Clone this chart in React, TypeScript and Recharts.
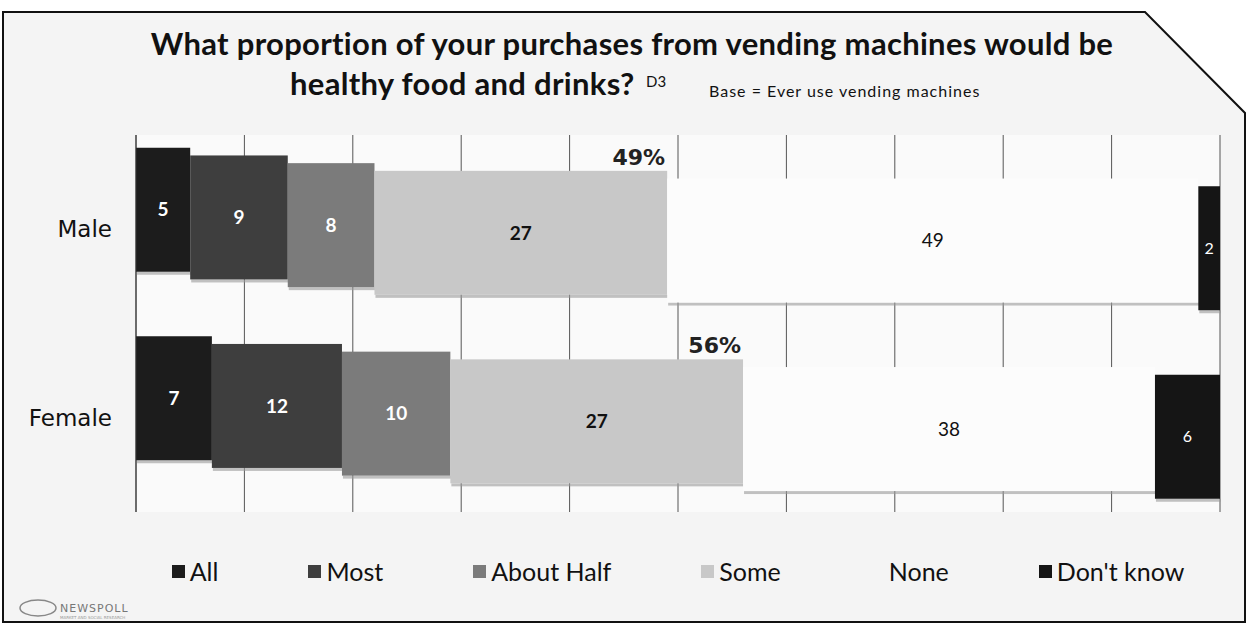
import React from 'react';
import { BarChart, Bar, XAxis, YAxis, CartesianGrid, Legend } from 'recharts';

const categories = ['Male', 'Female'];
const allValues = [5, 7];
const mostValues = [9, 12];
const aboutHalfValues = [8, 10];
const someValues = [27, 27];
const noneValues = [49, 38];
const dontKnowValues = [2, 6];

const seriesKeys = ['all', 'most', 'half', 'some', 'none', 'dk'];
const seriesNames = ['All', 'Most', 'About Half', 'Some', 'None', "Don't know"];
const seriesColors = ['#1c1c1c', '#3e3e3e', '#7b7b7b', '#c8c8c8', '#fcfcfc', '#151515'];
const labelColors = ['#ffffff', '#ffffff', '#ffffff', '#111111', '#111111', '#ffffff'];
const xTicks = [0, 10, 20, 30, 40, 50, 60, 70, 80, 90, 100];

const data = categories.map((name, i) => ({
  name,
  all: allValues[i],
  most: mostValues[i],
  half: aboutHalfValues[i],
  some: someValues[i],
  none: noneValues[i],
  dk: dontKnowValues[i],
}));

const STEP = 7.7;

const makeShape = (si: number) => (props: any) => {
  const { x, y, width, height, payload } = props;
  const off = (si - 2.5) * STEP;
  const top = y + off;
  const v = payload[seriesKeys[si]];
  const bold = si < 4;
  const cx = x + width / 2;
  const cy = top + height / 2;
  return (
    <g>
      <rect x={x + 1} y={top + height} width={width} height={3} fill="#9a9a9a" opacity={0.6} />
      <rect x={x} y={top} width={width} height={height} fill={seriesColors[si]} />
      <text
        x={cx}
        y={cy}
        dy="0.35em"
        textAnchor="middle"
        fill={labelColors[si]}
        fontFamily="Lato"
        fontWeight={bold ? 700 : 400}
        fontSize={si === 5 ? 16 : 19}
      >
        {v}
      </text>
      {si === 3 && (
        <text
          x={x + width - 2}
          y={top - 6}
          textAnchor="end"
          fontFamily="DejaVu Sans"
          fontWeight={700}
          fontSize={22}
          fill="#222"
        >
          {payload.all + payload.most + payload.half + payload.some}%
        </text>
      )}
    </g>
  );
};

const renderLegend = () => (
  <div
    style={{
      display: 'flex',
      justifyContent: 'center',
      gap: 90,
      fontFamily: 'Lato',
      fontSize: 25,
      color: '#111',
      lineHeight: 1.2,
    }}
  >
    {seriesNames.map((n, i) => (
      <div key={n} style={{ display: 'flex', alignItems: 'center' }}>
        <span
          style={{
            width: 13,
            height: 13,
            background: i === 4 ? 'transparent' : seriesColors[i],
            marginRight: 5,
            display: 'inline-block',
          }}
        />
        <span>{n}</span>
      </div>
    ))}
  </div>
);

export default function App() {
  return (
    <div style={{ position: 'absolute', left: 0, top: 0, width: 1247, height: 630, background: '#fff' }}>
      <svg width={1247} height={630} style={{ position: 'absolute', left: 0, top: 0 }}>
        <polygon
          points="3,12 1145,12 1245,113 1245,622 3,622"
          fill="#f4f4f4"
          stroke="#111"
          strokeWidth={2}
        />
      </svg>
      <div style={{ position: 'absolute', left: 0, top: 0 }}>
        <BarChart
          width={1247}
          height={630}
          data={data}
          layout="vertical"
          margin={{ top: 135, right: 27, bottom: 118, left: 0 }}
        >
          <CartesianGrid horizontal={false} stroke="#555" fill="#fafafa" />
          <XAxis type="number" domain={[0, 100]} ticks={xTicks} hide />
          <YAxis
            type="category"
            dataKey="name"
            width={136}
            axisLine={{ stroke: '#333' }}
            tickLine={false}
            tickSize={6}
            tickMargin={18}
            tick={{ fontFamily: 'DejaVu Sans', fontSize: 23, fill: '#111' }}
          />
          <Legend
            layout="horizontal"
            verticalAlign="middle"
            align="center"
            content={renderLegend}
            wrapperStyle={{ top: 556, left: 136, width: 1084 }}
          />
          {seriesKeys.map((k, si) => (
            <Bar
              key={k}
              dataKey={k}
              name={seriesNames[si]}
              stackId="a"
              barSize={124}
              fill={seriesColors[si]}
              shape={makeShape(si)}
              isAnimationActive={false}
            />
          ))}
        </BarChart>
      </div>
      <svg
        width={1247}
        height={630}
        style={{ position: 'absolute', left: 0, top: 0, pointerEvents: 'none' }}
      >
        <text x={632} y={55} textAnchor="middle" fontFamily="Lato" fontWeight={700} fontSize={31} letterSpacing={0.3} fill="#111">
          What proportion of your purchases from vending machines would be
        </text>
        <text x={290} y={95} fontFamily="Lato" fontWeight={700} fontSize={31} letterSpacing={0.3} fill="#111">
          healthy food and drinks?
        </text>
        <text x={646} y={87} fontFamily="Lato" fontSize={15} fill="#111">
          D3
        </text>
        <text x={709} y={97} fontFamily="Lato" fontSize={16} letterSpacing={1} fill="#111">
          Base = Ever use vending machines
        </text>
        <ellipse cx={38} cy={608} rx={18} ry={8} fill="none" stroke="#888" strokeWidth={1.5} />
        <text x={60} y={612} fontFamily="DejaVu Sans" fontSize={11} letterSpacing={1} fill="#777">
          NEWSPOLL
        </text>
        <text x={60} y={619} fontFamily="DejaVu Sans" fontSize={4} fill="#999">
          MARKET AND SOCIAL RESEARCH
        </text>
      </svg>
    </div>
  );
}
